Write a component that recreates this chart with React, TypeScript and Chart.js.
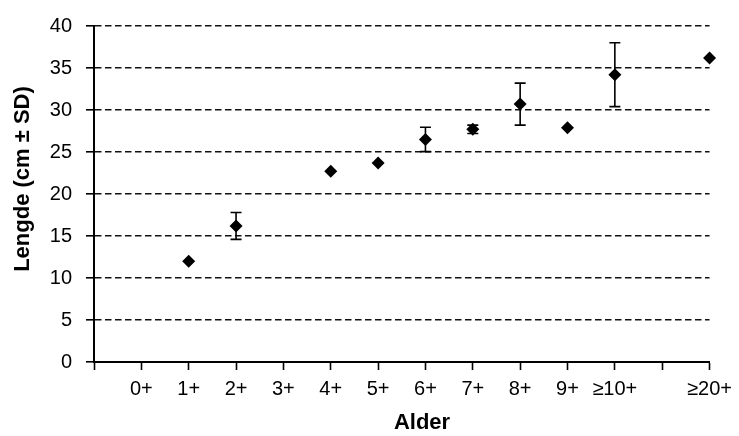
import React, { useEffect, useRef } from "react";
import { Chart, registerables } from "chart.js";

Chart.register(...registerables);

// Tick labels along the x axis (position -1 .. 12)
const tickLabels = ["", "0+", "1+", "2+", "3+", "4+", "5+", "6+", "7+", "8+", "9+", "≥10+", "", "≥20+"];
// Age groups that have measurements
const ageGroups = ["1+", "2+", "4+", "5+", "6+", "7+", "8+", "9+", "≥10+", "≥20+"];
// Mean length (cm)
const meanLength = [12.0, 16.2, 22.7, 23.7, 26.5, 27.7, 30.7, 27.9, 34.2, 36.2];
// Standard deviation (cm)
const sdLength = [0, 1.6, 0, 0, 1.45, 0.5, 2.5, 0, 3.8, 0];
// y-axis range
const yMin = 0;
const yMax = 40;
const yStep = 5;

const xAxisTitle = "Alder";
const yAxisTitle = "Lengde (cm ± SD)";

const FONT = "'Liberation Sans', Arial, sans-serif";

const xPos = (g: string) => tickLabels.indexOf(g) - 1;

const errorBarPlugin = {
  id: "errorBars",
  beforeDatasetsDraw(chart: any) {
    const { ctx, scales } = chart;
    const xs = scales.x;
    const ys = scales.y;
    ctx.save();
    ctx.strokeStyle = "#000";
    ctx.lineWidth = 1.6;
    ageGroups.forEach((g, i) => {
      const sd = sdLength[i];
      if (!sd) return;
      const x = xs.getPixelForValue(xPos(g));
      const yt = ys.getPixelForValue(meanLength[i] + sd);
      const yb = ys.getPixelForValue(meanLength[i] - sd);
      const cap = 5.5;
      ctx.beginPath();
      ctx.moveTo(x, yt);
      ctx.lineTo(x, yb);
      ctx.moveTo(x - cap, yt);
      ctx.lineTo(x + cap, yt);
      ctx.moveTo(x - cap, yb);
      ctx.lineTo(x + cap, yb);
      ctx.stroke();
    });
    ctx.restore();
  },
};

const axisTitlePlugin = {
  id: "axisTitles",
  afterDraw(chart: any) {
    const { ctx } = chart;
    ctx.save();
    ctx.fillStyle = "#000";
    ctx.font = `bold 22px ${FONT}`;
    ctx.textAlign = "center";
    ctx.textBaseline = "middle";
    ctx.fillText(xAxisTitle, 422, 423);
    ctx.translate(22.5, 179);
    ctx.rotate(-Math.PI / 2);
    ctx.fillText(yAxisTitle, 0, 0);
    ctx.restore();
  },
};

export default function App() {
  const ref = useRef<HTMLCanvasElement | null>(null);

  useEffect(() => {
    if (!ref.current) return;
    const chart = new Chart(ref.current, {
      type: "scatter",
      data: {
        datasets: [
          {
            label: "Lengde",
            data: ageGroups.map((g, i) => ({ x: xPos(g), y: meanLength[i] })),
            pointStyle: "rectRot",
            pointRadius: 6.5,
            pointHoverRadius: 6.5,
            backgroundColor: "#000",
            borderColor: "#000",
            borderWidth: 0,
            clip: false as any,
          },
        ],
      },
      options: {
        responsive: false,
        animation: false,
        events: [],
        layout: { padding: { left: 0, right: 28, top: 19, bottom: 0 } },
        plugins: {
          legend: { display: false },
          tooltip: { enabled: false },
          title: { display: false },
        },
        scales: {
          x: {
            type: "linear",
            min: -1,
            max: 12,
            afterBuildTicks: (s: any) => {
              s.ticks = tickLabels.map((_, i) => ({ value: i - 1 }));
            },
            afterFit: (s: any) => {
              s.height = 74;
            },
            ticks: {
              autoSkip: false,
              maxRotation: 0,
              padding: 7,
              color: "#000",
              font: { family: FONT, size: 20 },
              callback: (v: any) => tickLabels[Number(v) + 1] ?? "",
            },
            grid: {
              drawOnChartArea: false,
              drawTicks: true,
              tickLength: 8,
              tickColor: "#000",
              tickWidth: 1.6,
            },
            border: { display: true, color: "#000", width: 2 },
          },
          y: {
            type: "linear",
            min: yMin,
            max: yMax,
            afterFit: (s: any) => {
              s.width = 94;
            },
            ticks: {
              stepSize: yStep,
              padding: 14,
              color: "#000",
              font: { family: FONT, size: 20 },
            },
            grid: {
              drawOnChartArea: true,
              drawTicks: true,
              tickLength: 8,
              color: (c: any) => (c.tick && c.tick.value === 0 ? "rgba(0,0,0,0)" : "#111"),
              lineWidth: 1.6,
              tickColor: "#000",
              tickWidth: 1.6,
            },
            border: { display: true, color: "#000", width: 2, dash: [6.5, 3.5] },
          },
        },
      },
      plugins: [errorBarPlugin, axisTitlePlugin],
    });
    return () => chart.destroy();
  }, []);

  return (
    <div style={{ position: "absolute", left: 0, top: 0, width: 739, height: 436, background: "#fff" }}>
      <canvas ref={ref} width={739} height={436} style={{ display: "block" }} />
    </div>
  );
}
